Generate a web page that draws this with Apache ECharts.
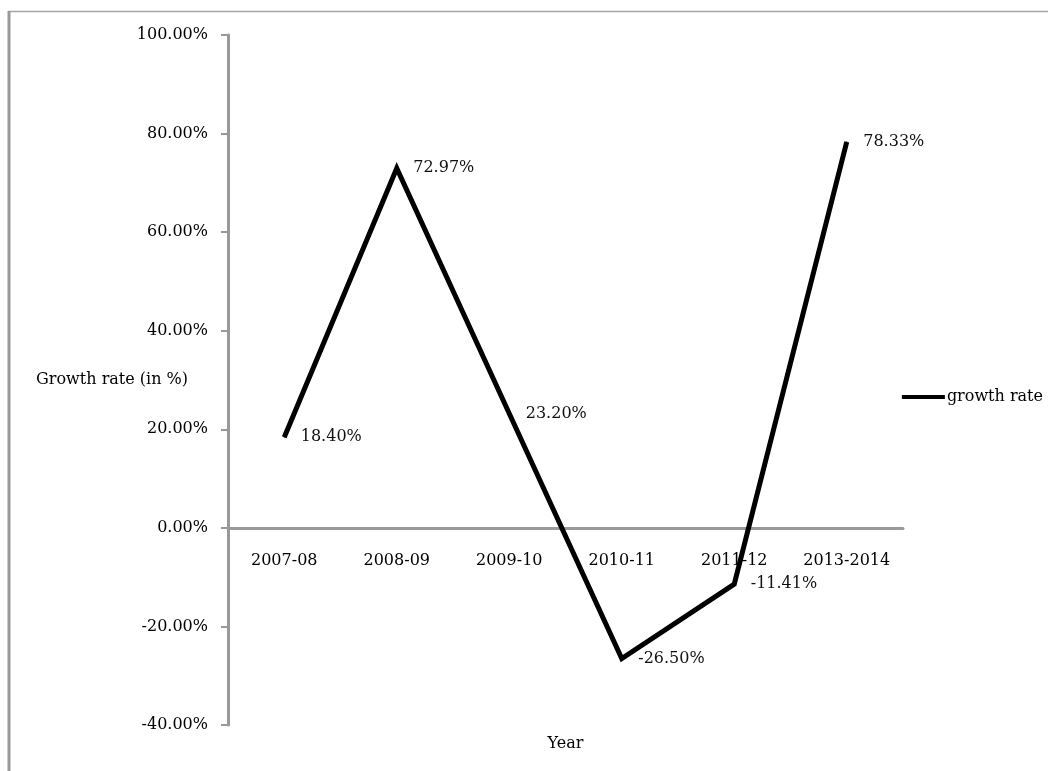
<!DOCTYPE html>
<html>
<head>
<meta charset="utf-8">
<script src="https://cdn.jsdelivr.net/npm/echarts@6/dist/echarts.min.js"></script>
<style>
  html, body { margin: 0; padding: 0; background: #fff; }
  #chart { width: 1049px; height: 771px; }
</style>
</head>
<body>
<div id="chart"></div>
<script>
// Fiscal years and their growth rates (%)
const years = ['2007-08', '2008-09', '2009-10', '2010-11', '2011-12', '2013-2014'];
const growthRate = [18.40, 72.97, 23.20, -26.50, -11.41, 78.33];
const seriesName = 'growth rate';

const FONT = '"DejaVu Serif", "Liberation Serif", serif';
const FONT_SIZE = 16;
const AXIS_GRAY = '#999999';

// value range of the y axis and plot box
const Y_MIN = -40, Y_MAX = 100, Y_STEP = 20;
const GRID_TOP = 35, GRID_BOTTOM = 46, CHART_H = 771;
const plotH = CHART_H - GRID_TOP - GRID_BOTTOM;
// lift the category axis (line, labels, name) up to the zero line
const zeroOffset = -plotH * (0 - Y_MIN) / (Y_MAX - Y_MIN);

const chart = echarts.init(document.getElementById('chart'));

chart.setOption({
  backgroundColor: '#ffffff',
  textStyle: { fontFamily: FONT, color: '#000' },
  animation: false,
  grid: {
    left: 228, right: 146, top: GRID_TOP, bottom: GRID_BOTTOM,
    containLabel: false,
    outerBoundsMode: 'none'
  },
  legend: {
    data: [seriesName],
    right: 1,
    top: 384,
    orient: 'vertical',
    icon: 'rect',
    itemWidth: 43,
    itemHeight: 4,
    itemGap: 0,
    textStyle: { fontFamily: FONT, fontSize: FONT_SIZE, color: '#000', padding: [0, 0, 0, -3] }
  },
  xAxis: {
    type: 'category',
    data: years,
    boundaryGap: true,
    position: 'bottom',
    offset: zeroOffset,
    name: 'Year',
    nameLocation: 'middle',
    nameGap: 208,
    nameMoveOverlap: false,
    nameTextStyle: { fontFamily: FONT, fontSize: FONT_SIZE, color: '#000' },
    axisLine: { onZero: false, lineStyle: { color: AXIS_GRAY, width: 3 } },
    axisTick: { show: false },
    axisLabel: { interval: 0, margin: 25, fontFamily: FONT, fontSize: FONT_SIZE, color: '#000' },
    splitLine: { show: false }
  },
  yAxis: {
    type: 'value',
    min: Y_MIN,
    max: Y_MAX,
    interval: Y_STEP,
    name: 'Growth rate (in %)',
    nameLocation: 'middle',
    nameRotate: 0,
    nameGap: 40,
    nameMoveOverlap: false,
    nameTextStyle: { fontFamily: FONT, fontSize: FONT_SIZE, color: '#000' },
    axisLine: { show: true, lineStyle: { color: AXIS_GRAY, width: 3 } },
    axisTick: { show: true, inside: false, length: 7, lineStyle: { color: AXIS_GRAY, width: 2 } },
    axisLabel: {
      margin: 20,
      fontFamily: FONT,
      fontSize: FONT_SIZE,
      color: '#000',
      formatter: v => v.toFixed(2) + '%'
    },
    splitLine: { show: false }
  },
  series: [{
    name: seriesName,
    type: 'line',
    data: growthRate,
    symbol: 'circle',
    symbolSize: 1,
    showSymbol: true,
    lineStyle: { color: '#000', width: 5, join: 'miter' },
    itemStyle: { color: '#000' },
    label: {
      show: true,
      position: 'right',
      distance: 16,
      fontFamily: FONT,
      fontSize: FONT_SIZE,
      color: '#111',
      formatter: p => p.value.toFixed(2) + '%'
    }
  }],
  graphic: [
    { type: 'line', shape: { x1: 8, y1: 11.5, x2: 1048, y2: 11.5 }, style: { stroke: '#a6a6a6', lineWidth: 1.5 } },
    { type: 'line', shape: { x1: 9, y1: 11, x2: 9, y2: 771 }, style: { stroke: '#999999', lineWidth: 3 } }
  ]
});
</script>
</body>
</html>
